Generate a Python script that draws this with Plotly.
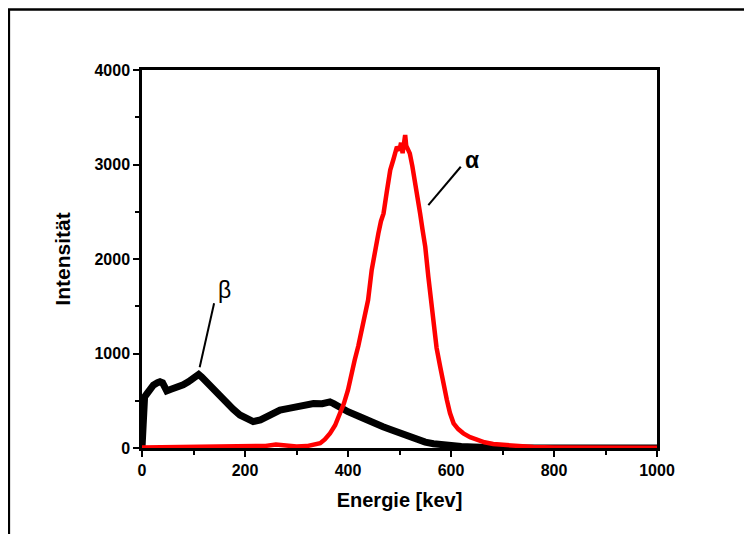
import plotly.graph_objects as go

# Beta spectrum (black)
beta_energy = [0, 1, 3, 5, 9, 15, 22, 30, 35, 40, 44, 48, 55, 61, 70, 80, 90, 97, 103, 110,
               116, 125, 138, 150, 164, 177, 190, 203, 216, 230, 242, 255, 268, 285, 300,
               315, 333, 350, 358, 365, 372, 380, 391, 400, 423, 436, 450, 468, 485, 500,
               517, 534, 550, 566, 583, 600, 620, 643, 665, 690, 720, 800, 900, 1000]
beta_counts = [0, 200, 450, 540, 570, 615, 665, 690, 700, 690, 650, 605, 620, 630, 645, 668,
               700, 735, 755, 778, 750, 700, 613, 545, 473, 410, 350, 305, 280, 298, 331,
               370, 400, 420, 437, 452, 470, 468, 478, 488, 470, 445, 405, 384, 330, 296,
               262, 225, 190, 160, 120, 88, 62, 45, 32, 24, 15, 10, 5, 2, 0, 0, 0, 0]

# Alpha spectrum (red)
alpha_energy = [0, 50, 100, 150, 200, 240, 260, 275, 300, 320, 333, 346, 355, 365, 375, 384,
                392, 400, 407, 413, 420, 426, 432, 439, 446, 452, 459, 464, 469, 475, 482,
                488, 495, 500, 503, 506, 509, 511, 513, 516, 520, 525, 530, 535, 540, 545,
                550, 556, 560, 563, 566, 572, 579, 585, 592, 598, 605, 614, 624, 637, 650,
                665, 682, 700, 720, 760, 800, 900, 1000]
alpha_counts = [5, 8, 10, 12, 15, 22, 38, 28, 15, 20, 35, 50, 90, 155, 240, 349,
                470, 614, 760, 931, 1080, 1248, 1400, 1566, 1883, 2080, 2271, 2400, 2483,
                2700, 2941, 3050, 3188, 3150, 3230, 3120, 3250, 3312, 3200, 3150, 3118,
                2980, 2835, 2650, 2483, 2300, 2130, 1812, 1600, 1495, 1283, 1060, 860, 680,
                508, 370, 261, 200, 155, 115, 85, 60, 42, 32, 25, 10, 5, 3, 2]

x_ticks = [0, 200, 400, 600, 800, 1000]
y_ticks = [0, 1000, 2000, 3000, 4000]

FONT = "Liberation Sans, Arial, sans-serif"

fig = go.Figure()
fig.add_trace(go.Scatter(x=beta_energy, y=beta_counts, mode="lines",
                         line=dict(color="black", width=7), showlegend=False))
fig.add_trace(go.Scatter(x=alpha_energy, y=alpha_counts, mode="lines",
                         line=dict(color="#ff0000", width=4.5), showlegend=False))

axis_common = dict(showgrid=False, zeroline=False, showline=True, linecolor="black",
                   linewidth=2.5, mirror=True, ticks="outside", tickcolor="black",
                   tickwidth=2, ticklen=6,
                   tickfont=dict(family=FONT, size=16, color="black", weight="bold"))

fig.update_xaxes(range=[0, 1000], tickvals=x_ticks,
                 minor=dict(ticks="outside", dtick=100, ticklen=4, tickwidth=2, tickcolor="black"),
                 title=dict(text="Energie [kev]", standoff=16,
                            font=dict(family=FONT, size=20, color="black", weight="bold")),
                 **axis_common)
fig.update_yaxes(range=[0, 4000], tickvals=y_ticks,
                 minor=dict(ticks="outside", dtick=500, ticklen=4, tickwidth=2, tickcolor="black"),
                 title=dict(text="Intensität", standoff=19,
                            font=dict(family=FONT, size=21, color="black", weight="bold")),
                 **axis_common)

# outer frame (left and top edges of the original figure border)
fig.add_shape(type="path", xref="paper", yref="paper",
              path="M -0.2585 -0.24 L -0.2585 1.160 L 1.2 1.160",
              line=dict(color="black", width=2.5))

# pointer lines for labels
fig.add_shape(type="line", xref="x", yref="y", x0=140, y0=1531, x1=112, y1=854,
              line=dict(color="black", width=2))
fig.add_shape(type="line", xref="x", yref="y", x0=619, y0=2976, x1=556, y1=2571,
              line=dict(color="black", width=2))

fig.add_annotation(x=161, y=1672, text="β", showarrow=False,
                   font=dict(family=FONT, size=23, color="black"))
fig.add_annotation(x=641, y=3047, text="α", showarrow=False,
                   font=dict(family=FONT, size=23, color="black", weight="bold"))

fig.update_layout(width=744, height=526, margin=dict(l=134, r=95, t=62, b=86),
                  plot_bgcolor="white", paper_bgcolor="white")

fig.write_html("out.html")
